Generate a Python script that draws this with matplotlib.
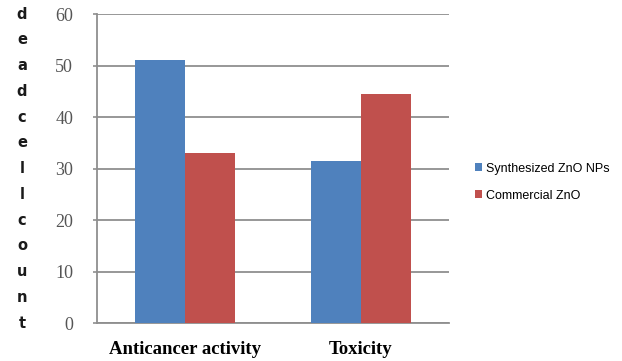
import numpy as np
import matplotlib.pyplot as plt

categories = ['Anticancer activity', 'Toxicity']
synthesized = [51, 31.5]
commercial = [33, 44.5]
series_names = ['Synthesized ZnO NPs', 'Commercial ZnO']
yticks = [0, 10, 20, 30, 40, 50, 60]
ylabel_text = 'deadcellcount'

blue = '#4F81BD'
red = '#C0504D'
grid_col = '#8f8f8f'

fig = plt.figure(figsize=(6.22, 3.61), dpi=100)
ax = fig.add_axes([0.1555, 0.105, 0.5665, 0.856])

x = np.arange(len(categories))
w = 0.284
ax.bar(x - w / 2, synthesized, w, color=blue, label=series_names[0], zorder=3)
ax.bar(x + w / 2, commercial, w, color=red, label=series_names[1], zorder=3)

ax.set_xlim(-0.5, 1.5)
ax.set_ylim(0, 60)
ax.set_yticks(yticks)
ax.set_yticklabels([str(t) for t in yticks], family='Liberation Serif',
                   fontsize=13, color='#555555')
ax.set_xticks(x)
ax.set_xticklabels(categories, family='Liberation Serif', fontsize=13.5,
                   fontweight='bold', color='black')
ax.tick_params(axis='y', length=3, width=1.2, color=grid_col, pad=14)
ax.tick_params(axis='x', length=0, pad=13)

ax.yaxis.grid(True, color=grid_col, lw=1.3, zorder=0)
for side in ['top', 'right']:
    ax.spines[side].set_visible(False)
for side in ['left', 'bottom']:
    ax.spines[side].set_color(grid_col)
    ax.spines[side].set_linewidth(1.3)

# stacked letters for the vertical axis title
n = len(ylabel_text)
for i, ch in enumerate(ylabel_text):
    ax.text(-0.212, 1 - i / (n - 1), ch, transform=ax.transAxes,
            ha='center', va='center', fontsize=10.5, fontweight='bold',
            family='DejaVu Sans', color='#1a1a1a')

fig.legend(loc='upper left', bbox_to_anchor=(0.745, 0.58), frameon=False,
           handlelength=0.6, handleheight=0.6, handletextpad=0.3,
           labelspacing=1.2, prop={'family': 'Liberation Sans', 'size': 9})

fig.savefig('out.png', dpi=100)
